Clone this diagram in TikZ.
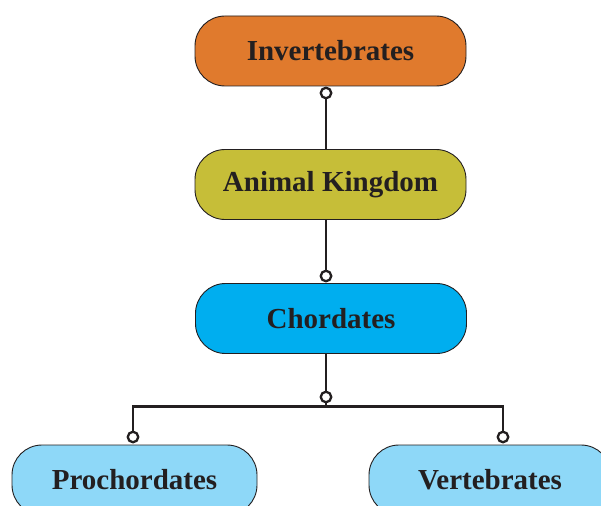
\documentclass[tikz,border=0pt]{standalone}
\usepackage{fontspec}
\setmainfont{Liberation Serif}
\usepackage{tikz}
\usetikzlibrary{positioning,calc}
\usepackage{xcolor}
\definecolor{akInk}{HTML}{231F20}
\definecolor{akOrange}{HTML}{E07A2D}
\definecolor{akOlive}{HTML}{C6BE38}
\definecolor{akCyan}{HTML}{00AEEF}
\definecolor{akSky}{HTML}{8ED8F8}
\tikzset{
  taxbox/.style={rounded corners=30pt, draw=akInk, line width=0.9pt, align=center, minimum width=271pt, minimum height=70pt, inner sep=0pt, text=akInk, font=\fontsize{29}{34}\selectfont\bfseries},
  leafbox/.style={taxbox, fill=akSky, minimum width=245pt},
  link/.style={draw=akInk, line width=2.5pt},
  knob/.style={circle, draw=akInk, fill=white, line width=2.3pt, minimum size=10.5pt, inner sep=0pt}
}
\begin{document}
\begin{tikzpicture}[x=1pt,y=1pt]
  \useasboundingbox (0,0) rectangle (601,-505);
  \node[taxbox, fill=akOrange] (inv) at (330.5,-51) {Invertebrates};
  \node[taxbox, fill=akOlive] (ank) at (330.5,-184.5) {Animal Kingdom};
  \node[taxbox, fill=akCyan] (chd) at (331,-318.5) {Chordates};
  \node[leafbox] (pro) at (134.5,-480) {Prochordates};
  \node[leafbox, minimum width=242pt] (ver) at (490,-480) {Vertebrates};
  \node[knob] (k1) at (326,-93) {};
  \node[knob] (k2) at (326,-276) {};
  \node[knob] (k3) at (326,-397) {};
  \node[knob] (k4) at (133,-437) {};
  \node[knob] (k5) at (503,-437) {};
  \draw[link] (k1.south) -- (k1 |- ank.north);
  \draw[link] (k2 |- ank.south) -- (k2.north);
  \draw[link] (k3 |- chd.south) -- (k3.north);
  \coordinate (bar) at ($(k3.south)+(0,-3)$);
  \draw[link] (k3.south) -- (bar);
  \draw[link] (k4.north) -- (k4.north |- bar) -- (k5.north |- bar) -- (k5.north);
\end{tikzpicture}
\end{document}
